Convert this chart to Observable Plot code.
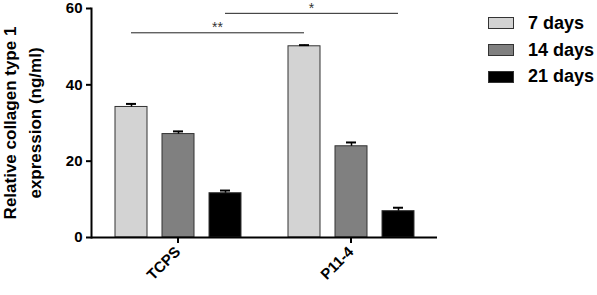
<!DOCTYPE html>
<html><head><meta charset="utf-8">
<script src="https://cdn.jsdelivr.net/npm/d3@7"></script>
<script src="https://cdn.jsdelivr.net/npm/@observablehq/plot@0.6"></script>
<style>
body{margin:0;background:#fff;font-family:"Liberation Sans",Arial,sans-serif;}
#wrap{position:relative;width:597px;height:295px;}
#legend{position:absolute;left:488px;top:10px;white-space:nowrap;}
.row{display:flex;align-items:center;height:26.7px;font-weight:bold;font-size:18px;color:#000;white-space:nowrap;}
.sw{width:24px;height:10px;border:1px solid #333;margin-right:14px;box-sizing:content-box;flex:none;}
</style></head><body><div id="wrap"><div id="legend"></div></div>
<script>
const groups = ["TCPS", "P11-4"];
const days = ["7 days", "14 days", "21 days"];
const tcpsValues = [34.2, 27.1, 11.6];
const tcpsErrors = [0.8, 0.7, 0.7];
const p114Values = [50.1, 23.9, 6.9];
const p114Errors = [0.3, 1.0, 0.9];
const yTicks = [0, 20, 40, 60];
const yLabelLines = ["Relative collagen type 1", "expression (ng/ml)"];
const dayColors = ["#d3d3d3", "#808080", "#000000"];
const bracketFrom = [["TCPS", "7 days"], ["TCPS", "21 days"]];
const bracketTo = [["P11-4", "7 days"], ["P11-4", "21 days"]];
const bracketLevels = [53.5, 58.6];
const bracketLabels = ["**", "*"];

const rows = [];
days.forEach((d, i) => {
  rows.push({group: "TCPS", day: d, value: tcpsValues[i], err: tcpsErrors[i]});
  rows.push({group: "P11-4", day: d, value: p114Values[i], err: p114Errors[i]});
});
const brackets = bracketLevels.map((lv, i) => ({from: bracketFrom[i], to: bracketTo[i], level: lv, label: bracketLabels[i]}));

function bracketRender(index, scales, values, dimensions) {
  const fx = scales.fx, x = scales.x, y = scales.y;
  const bw = x.bandwidth ? x.bandwidth() : 0;
  const x0 = x.range ? x.range()[0] : dimensions.marginLeft;
  const pos = ([g, d]) => fx(g) + x(d) - x0 + bw / 2;
  const g = d3.create("svg:g");
  for (const b of brackets) {
    const yy = y(b.level);
    const a = pos(b.from), c = pos(b.to);
    g.append("line").attr("x1", a).attr("x2", c).attr("y1", yy).attr("y2", yy)
      .attr("stroke", "#222").attr("stroke-width", 1);
    g.append("text").attr("x", (a + c) / 2).attr("y", yy - 0.5)
      .attr("text-anchor", "middle").attr("font-size", 14).attr("font-weight", "normal")
      .attr("fill", "#333").text(b.label);
  }
  return g.node();
}

const plot = Plot.plot({
  width: 597, height: 295,
  marginLeft: 90, marginRight: 160, marginTop: 8, marginBottom: 58,
  style: {fontFamily: "Liberation Sans, Arial, sans-serif", fontWeight: "bold", fontSize: "15px", color: "#000", background: "#fff"},
  fx: {domain: groups, padding: 0, label: null},
  x: {domain: days, paddingInner: 0.32, paddingOuter: 0.5, axis: null},
  y: {domain: [0, 60], label: null},
  color: {domain: days, range: dayColors},
  marks: [
    Plot.barY(rows, {fx: "group", x: "day", y: "value", fill: "day", stroke: "#333", strokeWidth: 1}),
    Plot.ruleX(rows, {fx: "group", x: "day", y1: "value", y2: d => d.value + d.err, stroke: "#000", strokeWidth: 1.5}),
    Plot.tickY(rows, {fx: "group", x: "day", y: d => d.value + d.err, stroke: "#000", strokeWidth: 2, insetLeft: 11, insetRight: 11}),
    Plot.ruleY([0], {stroke: "#000", strokeWidth: 2}),
    Plot.frame({anchor: "left", facet: "super", stroke: "#000", strokeWidth: 2}),
    Plot.axisY({ticks: yTicks, tickSize: 5, strokeWidth: 2, label: null}),
    Plot.axisY({ticks: [], label: yLabelLines[0], labelAnchor: "center", labelArrow: "none", labelOffset: 88, fontSize: 17}),
    Plot.axisY({ticks: [], label: yLabelLines[1], labelAnchor: "center", labelArrow: "none", labelOffset: 63, fontSize: 17}),
    Plot.axisFx({anchor: "bottom", tickRotate: -45, tickSize: 6, strokeWidth: 2, label: null}),
    Plot.frame({facet: "super", stroke: "none", render: bracketRender})
  ]
});
document.getElementById("wrap").prepend(plot);

const legend = document.getElementById("legend");
days.forEach((d, i) => {
  const r = document.createElement("div");
  r.className = "row";
  const s = document.createElement("div");
  s.className = "sw";
  s.style.background = dayColors[i];
  r.appendChild(s);
  r.appendChild(document.createTextNode(d));
  legend.appendChild(r);
});
</script>
</body></html>
